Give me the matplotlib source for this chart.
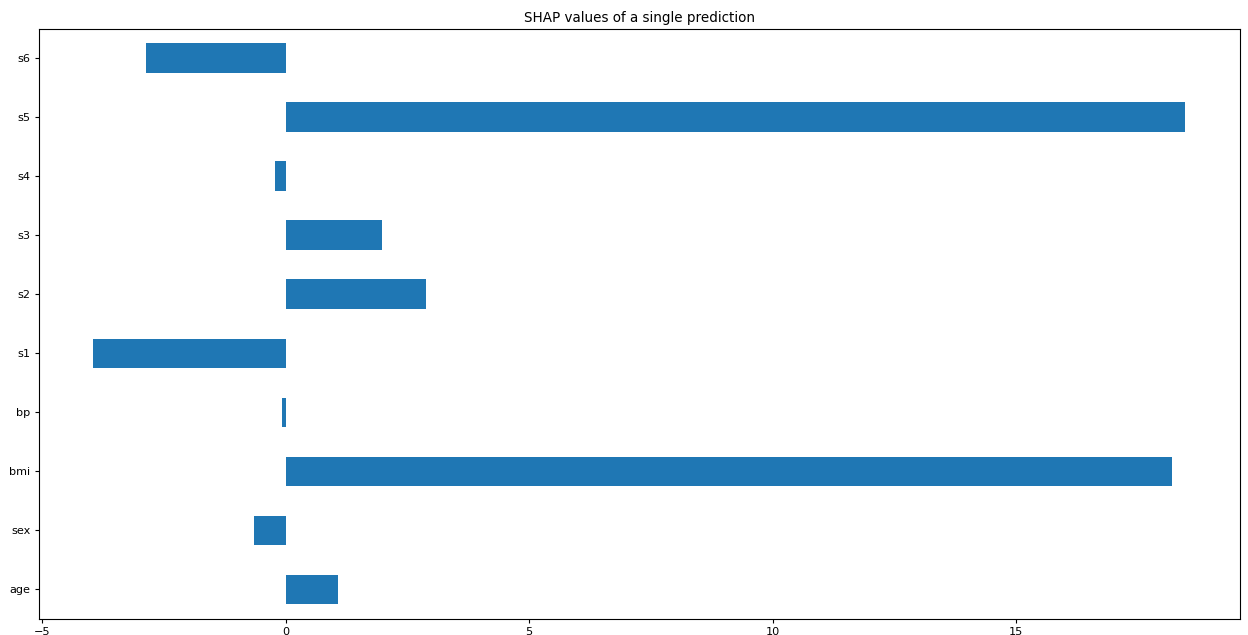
import matplotlib
matplotlib.use("Agg")
import matplotlib.pyplot as plt

features = ["age", "sex", "bmi", "bp", "s1", "s2", "s3", "s4", "s5", "s6"]
shap_values = [1.08, -0.65, 18.2, -0.08, -3.95, 2.88, 1.98, -0.22, 18.47, -2.87]

s = 0.81
plt.rcParams.update({
    "font.size": 10 * s,
    "axes.titlesize": 12 * s,
    "xtick.major.size": 3.5 * s,
    "ytick.major.size": 3.5 * s,
    "xtick.major.pad": 3.5 * s,
    "ytick.major.pad": 3.5 * s,
    "axes.titlepad": 6 * s,
    "axes.linewidth": 0.8,
})

fig = plt.figure(figsize=(12.48, 6.35), dpi=100)
ax = fig.add_axes([38.5/1248, 1 - 619/635, (1240-38.5)/1248, (619-28.5)/635])
ax.barh(range(len(features)), shap_values, height=0.5, color="#1f77b4")
ax.set_yticks(range(len(features)))
ax.set_yticklabels(features)
ax.set_ylim(-0.5, len(features) - 0.5)
ax.margins(x=0.05)
ax.set_title("SHAP values of a single prediction")
fig.savefig("out.png", dpi=100)
